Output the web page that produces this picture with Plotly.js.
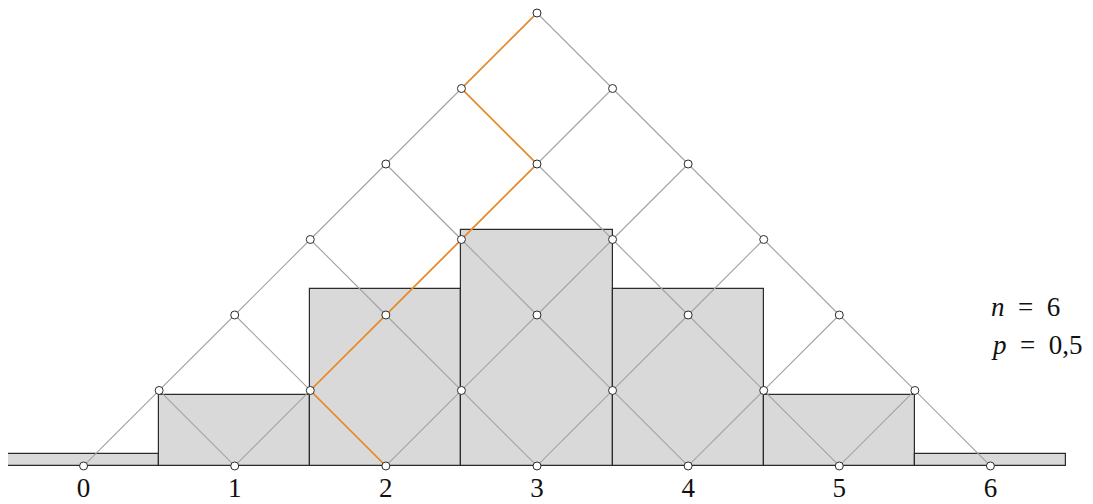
<!DOCTYPE html>
<html>
<head>
<meta charset="utf-8">
<script src="https://cdn.plot.ly/plotly-3.0.1.min.js"></script>
<style>
  html, body { margin: 0; padding: 0; background: #fff; }
  #chart { width: 1093px; height: 504px; }
</style>
</head>
<body>
<div id="chart"></div>
<script>
// binomial distribution, n = 6, p = 0.5
const n = 6;
const categories = [0, 1, 2, 3, 4, 5, 6];
const probabilities = [0.015625, 0.09375, 0.234375, 0.3125, 0.234375, 0.09375, 0.015625];
const tickLabels = ["0", "1", "2", "3", "4", "5", "6"];
// one path through the board: L = left, R = right
const pathSteps = ["L", "R", "L", "L", "L", "R"];
const paramLines = ["<i>n</i>\u2002=\u20026", "<i>p</i>\u2002=\u20020,5"];

const serif = "'Liberation Serif', 'DejaVu Serif', serif";

// lattice: level k has k+1 pegs, level n sits on the axis
const nodeX = [], nodeY = [];
const edgeX = [], edgeY = [];
for (let k = 0; k <= n; k++) {
    for (let j = 0; j <= k; j++) {
        const x = n / 2 - k / 2 + j, y = (n - k) / 2;
        nodeX.push(x); nodeY.push(y);
        if (k < n) {
            edgeX.push(x, x - 0.5, null, x, x + 0.5, null);
            edgeY.push(y, y - 0.5, null, y, y - 0.5, null);
        }
    }
}

const pathX = [n / 2], pathY = [n / 2];
let j = 0;
pathSteps.forEach(function (s, k) {
    if (s === "R") j++;
    pathX.push(n / 2 - (k + 1) / 2 + j);
    pathY.push((n - k - 1) / 2);
});

const bars = {
    type: "bar",
    x: categories,
    y: probabilities,
    width: 1,
    marker: { color: "#d9d9d9", line: { color: "#2b2b2b", width: 1.2 } },
    hoverinfo: "x+y",
};

const edges = {
    type: "scatter", mode: "lines", yaxis: "y2",
    x: edgeX, y: edgeY,
    line: { color: "#a3a3a3", width: 1.1 },
    hoverinfo: "skip", cliponaxis: false,
};

const path = {
    type: "scatter", mode: "lines", yaxis: "y2",
    x: pathX, y: pathY,
    line: { color: "#f0871f", width: 1.6 },
    hoverinfo: "skip", cliponaxis: false,
};

const pegs = {
    type: "scatter", mode: "markers", yaxis: "y2",
    x: nodeX, y: nodeY,
    marker: { size: 8, color: "#ffffff", line: { color: "#2b2b2b", width: 1 } },
    cliponaxis: false,
};

// lattice units: 151 px per unit, bars scaled by 5
const yLo = -0.02, yHi = 3.053;

const layout = {
    width: 1093,
    height: 504,
    margin: { l: 8, r: 27, t: 5, b: 35 },
    showlegend: false,
    paper_bgcolor: "#ffffff",
    plot_bgcolor: "#ffffff",
    bargap: 0,
    font: { family: serif, color: "#111111" },
    xaxis: {
        range: [-0.5, 6.5],
        tickvals: categories,
        ticktext: tickLabels,
        tickfont: { size: 27, family: serif },
        showgrid: false, zeroline: false, showline: false, ticks: "",
    },
    yaxis: {
        range: [yLo / 5, yHi / 5],
        visible: false, showgrid: false, zeroline: false,
    },
    yaxis2: {
        range: [yLo, yHi],
        overlaying: "y",
        visible: false, showgrid: false, zeroline: false,
    },
    annotations: paramLines.map(function (t, i) {
        return {
            text: t, xref: "x", yref: "y2",
            x: 5.99, y: 1.055 - i * 0.252,
            xanchor: "left", yanchor: "middle",
            showarrow: false,
            font: { size: 27, family: serif, color: "#111111" },
        };
    }),
};

Plotly.newPlot("chart", [bars, edges, path, pegs], layout, { displayModeBar: false });
</script>
</body>
</html>
